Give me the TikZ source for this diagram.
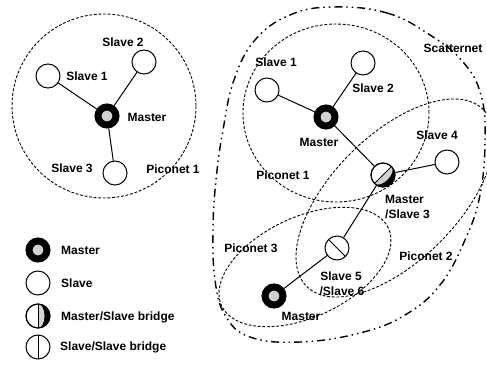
\documentclass[tikz,border=0pt]{standalone}
\usepackage{fontspec}
\setmainfont{Liberation Sans}
% half-master marking inside a bridge node: #1 node name, #2 rotation
\newcommand{\msmark}[2]{%
  \begin{scope}[shift={(#1.center)}, rotate=#2]
    \begin{scope}
      \clip (0pt,0pt) circle [radius=12pt];
      \fill[black] (0pt,-14pt) rectangle (14pt,14pt);
      \fill[gray!35] (0pt,12pt) arc [start angle=90, end angle=-90, x radius=6.5pt, y radius=12pt] -- cycle;
    \end{scope}
    \draw[line width=0.9pt] (0pt,-12pt) -- (0pt,12pt);
    \draw[line width=1pt] (0pt,0pt) circle [radius=12pt];
  \end{scope}}
% dividing line inside a slave/slave bridge node: #1 node name, #2 rotation
\newcommand{\ssmark}[2]{%
  \begin{scope}[shift={(#1.center)}, rotate=#2]
    \draw[line width=0.9pt] (0pt,-12pt) -- (0pt,12pt);
  \end{scope}}
\begin{document}
\begin{tikzpicture}[x=1pt,y=-1pt,
  piconet/.style={line width=0.9pt, dash pattern=on 2.8pt off 1.8pt},
  scatter/.style={line width=1.4pt, dash pattern=on 8pt off 4pt on 1.5pt off 4pt on 1.5pt off 4pt},
  link/.style={line width=1pt},
  lbl/.style={font=\bfseries\fontsize{12}{13}\selectfont, inner sep=0pt},
  slave/.style={circle, draw, line width=1pt, fill=white, minimum size=24pt, inner sep=0pt},
  master/.style={circle, draw, line width=7pt, fill=gray!35, minimum size=18pt, inner sep=0pt},
]
\useasboundingbox (0,0) rectangle (487,364);

% piconet boundaries
\draw[piconet] (104,106) circle [radius=92pt];
\draw[piconet] (336,113) ellipse [x radius=93pt, y radius=89pt];
\begin{scope}[shift={(395,198)}, rotate=45]
  \draw[piconet] (0pt,0pt) ellipse [x radius=125pt, y radius=63pt];
\end{scope}
\begin{scope}[shift={(305,267)}, rotate=25]
  \draw[piconet] (0pt,0pt) ellipse [x radius=92pt, y radius=50pt];
\end{scope}

% scatternet boundary
\draw[scatter] plot[smooth cycle, tension=0.7] coordinates {
  (333,7) (387,13) (430,35) (463,62) (481,95) (485,140) (480,195) (465,240)
  (440,285) (405,315) (360,333) (300,342) (250,337) (225,315) (215,280)
  (213,230) (216,180) (223,130) (234,80) (255,40) (290,15)};

% stand-alone piconet
\node[master] (lm) at (107,116) {};
\node[slave] (ls1) at (48,76) {};
\node[slave] (ls2) at (144,62) {};
\node[slave] (ls3) at (115,173) {};

% scatternet
\node[master] (rm) at (326,117) {};
\node[slave] (rs1) at (267,90) {};
\node[slave] (rs2) at (363,63) {};
\node[slave] (br) at (383,175) {};
\node[slave] (rs4) at (447,162) {};
\node[slave] (s56) at (337,248) {};
\node[master] (bm) at (274,296) {};
\msmark{br}{-45}
\ssmark{s56}{45}

\draw[link] (lm) -- (ls1);
\draw[link] (lm) -- (ls2);
\draw[link] (lm) -- (ls3);
\draw[link] (rm) -- (rs1);
\draw[link] (rm) -- (rs2);
\draw[link] (rm) -- (br);
\draw[link] (br) -- (rs4);
\draw[link] (bm) -- (s56);
\draw[link] (s56) -- (br);

% labels
\node[lbl] (t1) at (87,76) {Slave 1};
\node[lbl] (t2) at (123,42) {Slave 2};
\node[lbl] (t3) at (147,117) {Master};
\node[lbl] (t4) at (72,168) {Slave 3};
\node[lbl] (t5) at (173,169) {Piconet 1};

\node[lbl] (u1) at (276,62) {Slave 1};
\node[lbl] (u2) at (373,88) {Slave 2};
\node[lbl] (u3) at (319,142) {Master};
\node[lbl] (u4) at (453,48) {Scatternet};
\node[lbl] (u5) at (437,135) {Slave 4};
\node[lbl] (u6) at (283,175) {Piconet 1};
\node[lbl, anchor=west] (u7) at (385,199) {Master};
\node[lbl, anchor=west] (u8) at (385,214) {/Slave 3};
\node[lbl] (u9) at (251,248) {Piconet 3};
\node[lbl] (u10) at (426,256) {Piconet 2};
\node[lbl] (u11) at (341,276) {Slave 5};
\node[lbl] (u12) at (342,291) {/Slave 6};
\node[lbl] (u13) at (301,316) {Master};

% legend
\node[master] (k1) at (38,250) {};
\node[slave] (k2) at (38,283) {};
\node[slave] (k3) at (38,316) {};
\node[slave] (k4) at (38,347) {};
\msmark{k3}{0}
\ssmark{k4}{0}
\node[lbl, anchor=west] (k1t) at (61,250) {Master};
\node[lbl, anchor=west] (k2t) at (61,283) {Slave};
\node[lbl, anchor=west] (k3t) at (61,317) {Master/Slave bridge};
\node[lbl, anchor=west] (k4t) at (60,347) {Slave/Slave bridge};
\end{tikzpicture}
\end{document}
